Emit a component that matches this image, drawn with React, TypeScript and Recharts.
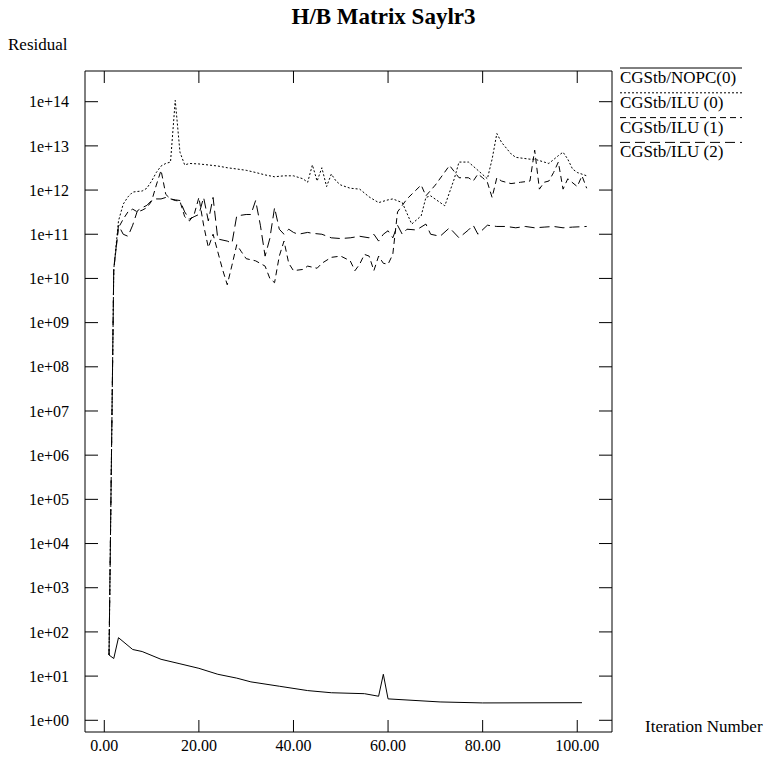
import React from 'react';
import { LineChart, Line, XAxis, YAxis, Legend } from 'recharts';

const FONT = '"Liberation Serif", "DejaVu Serif", serif';

// CGStb without preconditioning
const nopcIter = [1, 2, 3, 6, 8, 12, 16, 20, 24, 28, 31, 37, 43, 48, 55, 58, 59, 60, 71, 80, 101];
const nopcRes = [30, 25, 74, 40, 36, 24, 19, 15, 11, 9, 7.4, 5.9, 4.7, 4.2, 4.0, 3.5, 11, 3.05, 2.6, 2.47, 2.5];

// CGStb with ILU(0)
const ilu0Iter = [
  1, 2, 3, 4, 5, 6, 7, 8, 9, 10, 11, 12, 13, 14, 15, 16, 17, 18, 20, 22, 24, 26, 28, 30, 32, 34, 36, 38, 40, 42,
  43, 44, 45, 46, 47, 48, 49, 50, 52, 54, 56, 58, 60, 61, 63, 65, 67, 68, 69, 72, 74, 75, 77, 79, 81, 82, 83, 84,
  86, 87, 90, 91, 93, 94, 96, 97, 98, 99, 100, 102,
];
const ilu0Res = [
  30, 1.6e10, 2e11, 4.8e11, 7e11, 9e11, 9.3e11, 9.5e11, 1.1e12, 1.6e12, 2.5e12, 3.5e12, 4e12, 4.3e12, 1.07e14,
  7.2e12, 3.7e12, 4e12, 3.9e12, 3.7e12, 3.5e12, 3.2e12, 3e12, 2.8e12, 2.5e12, 2.2e12, 2e12, 2.1e12, 2.1e12,
  1.8e12, 1.5e12, 3.7e12, 1.6e12, 3.2e12, 1.2e12, 2.3e12, 1.6e12, 1.3e12, 1.1e12, 1.05e12, 7e11, 5.2e11, 6e11,
  6.3e11, 5.2e11, 1.7e11, 2.6e11, 6.8e11, 7.4e11, 4.4e11, 1.8e12, 4.3e12, 4.3e12, 2.8e12, 1.8e12, 5e12, 1.9e13,
  1.2e13, 6.6e12, 5.5e12, 5e12, 5e12, 4.3e12, 4e12, 6e12, 7.2e12, 5e12, 3e12, 2.5e12, 2.1e12,
];

// CGStb with ILU(1)
const ilu1Iter = [
  1, 2, 3, 4, 5, 6, 7, 8, 9, 10, 11, 12, 13, 14, 15, 16, 17, 18, 19, 20, 21, 22, 23, 24, 25, 26, 27, 28, 29, 30,
  32, 34, 35, 36, 37, 38, 39, 40, 42, 43, 45, 46, 48, 50, 52, 53, 54, 55, 56, 57, 58, 59, 60, 61, 62, 64, 67, 68,
  70, 73, 75, 77, 78, 79, 80, 81, 82, 83, 84, 86, 88, 90, 91, 92, 93, 94, 95, 96, 97, 98, 100, 101, 102,
];
const ilu1Res = [
  30, 1.6e10, 1.4e11, 2.2e11, 3.2e11, 3.7e11, 3.2e11, 3.5e11, 4e11, 5.6e11, 1.3e12, 2.8e12, 8e11, 6.3e11, 5.8e11,
  5.6e11, 2.5e11, 2e11, 2.8e11, 6.8e11, 1.6e11, 5e10, 1e11, 4e10, 1.6e10, 7.2e9, 2e10, 5.8e10, 4e10, 2.8e10,
  2.5e10, 1.9e10, 1e10, 8e9, 3.2e10, 7e10, 2.2e10, 1.5e10, 1.6e10, 1.9e10, 1.7e10, 2.2e10, 3e10, 3.2e10, 2.5e10,
  1.5e10, 2.1e10, 3.5e10, 3.2e10, 1.5e10, 3.2e10, 2.2e10, 2.1e10, 3.5e10, 3.2e11, 6.3e11, 1.3e12, 7.4e11, 1.3e12,
  3.6e12, 1.9e12, 1.9e12, 1.6e12, 2.3e12, 1.9e12, 1.5e12, 6.8e11, 1.9e12, 1.6e12, 1.4e12, 1.5e12, 1.6e12, 8e12,
  1.05e12, 1.5e12, 1.6e12, 2.5e12, 4.3e12, 1.05e12, 1.8e12, 1.2e12, 2.1e12, 1.1e12,
];

// CGStb with ILU(2)
const ilu2Iter = [
  1, 2, 3, 4, 5, 6, 7, 8, 9, 10, 11, 12, 13, 14, 15, 16, 17, 18, 19, 20, 21, 22, 23, 24, 26, 27, 28, 30, 31, 32,
  33, 34, 35, 36, 37, 38, 39, 40, 41, 43, 44, 46, 48, 50, 52, 54, 56, 57, 58, 59, 60, 61, 62, 63, 64, 66, 68, 69,
  71, 73, 75, 77, 78, 79, 81, 83, 85, 87, 89, 91, 93, 95, 97, 99, 102,
];
const ilu2Res = [
  30, 1.6e10, 1.6e11, 1e11, 9e10, 1.6e11, 3.4e11, 4e11, 4.5e11, 5.8e11, 6.3e11, 6.3e11, 6.8e11, 6.3e11, 6e11,
  5.8e11, 3.2e11, 2.2e11, 2.5e11, 2.8e11, 6.8e11, 2e11, 6.8e11, 7.8e10, 7e10, 6.3e10, 2.6e11, 2.8e11, 2.8e11,
  5.8e11, 1.6e11, 3.2e10, 8e10, 4e11, 1.3e11, 1e11, 1.3e11, 1.1e11, 1e11, 1.1e11, 1.05e11, 1e11, 8.3e10, 8e10,
  8.3e10, 9e10, 8.3e10, 1e11, 7e10, 1e11, 1.2e11, 8.3e10, 1.6e11, 1e11, 1.3e11, 1.25e11, 1.7e11, 1e11, 9e10,
  1.4e11, 8.3e10, 1.25e11, 1.6e11, 1e11, 1.6e11, 1.5e11, 1.5e11, 1.4e11, 1.5e11, 1.4e11, 1.45e11, 1.5e11, 1.4e11,
  1.45e11, 1.5e11,
];

const xTicks = [0, 20, 40, 60, 80, 100];
const yTicks = [1e0, 1e1, 1e2, 1e3, 1e4, 1e5, 1e6, 1e7, 1e8, 1e9, 1e10, 1e11, 1e12, 1e13, 1e14];

const toRows = (iters: number[], res: number[]) => iters.map((it, i) => ({ iter: it, res: res[i] }));

const series = [
  { name: 'CGStb/NOPC(0)', data: toRows(nopcIter, nopcRes), dash: undefined as string | undefined },
  { name: 'CGStb/ILU (0)', data: toRows(ilu0Iter, ilu0Res), dash: '2 2' },
  { name: 'CGStb/ILU (1)', data: toRows(ilu1Iter, ilu1Res), dash: '6 4' },
  { name: 'CGStb/ILU (2)', data: toRows(ilu2Iter, ilu2Res), dash: '10 5' },
];

const X_DOMAIN: [number, number] = [-4.08, 107.35];
const Y_DOMAIN: [number, number] = [0.543, 4.95e14];

const X_TICK_LEN = 12;
const Y_TICK_LEN = 13;

function fmtExp(v: number) {
  const e = Math.round(Math.log10(v));
  return `1e${e < 0 ? '-' : '+'}${String(Math.abs(e)).padStart(2, '0')}`;
}

type TickProps = { x?: number; y?: number; payload?: { value: number } };

// tick marks all point into the plot box (axis tickSize/tickMargin are 0, so x/y is on the axis line)
function BottomTick({ x = 0, y = 0, payload }: TickProps) {
  return (
    <g>
      <line x1={x} x2={x} y1={y} y2={y - X_TICK_LEN} stroke="#000" />
      <text x={x} y={y + 8} dy="0.71em" textAnchor="middle" fontSize={16} fontFamily={FONT} fill="#000">
        {payload ? payload.value.toFixed(2) : ''}
      </text>
    </g>
  );
}

function TopTick({ x = 0, y = 0 }: TickProps) {
  return <line x1={x} x2={x} y1={y} y2={y + X_TICK_LEN} stroke="#000" />;
}

function LeftTick({ x = 0, y = 0, payload }: TickProps) {
  return (
    <g>
      <line x1={x} x2={x + Y_TICK_LEN} y1={y} y2={y} stroke="#000" />
      <text x={x - 16} y={y} dy="0.355em" textAnchor="end" fontSize={16} fontFamily={FONT} fill="#000">
        {payload ? fmtExp(payload.value) : ''}
      </text>
    </g>
  );
}

function RightTick({ x = 0, y = 0 }: TickProps) {
  return <line x1={x} x2={x - Y_TICK_LEN} y1={y} y2={y} stroke="#000" />;
}

function LegendBox() {
  return (
    <svg width={147} height={100} style={{ display: 'block' }}>
      {series.map((s, i) => (
        <g key={s.name}>
          <line x1={2} x2={124} y1={6 + i * 24.8} y2={6 + i * 24.8} stroke="#000" strokeDasharray={s.dash} />
          <text x={2} y={21 + i * 24.8} fontSize={17} fontFamily={FONT} fill="#000">
            {s.name}
          </text>
        </g>
      ))}
    </svg>
  );
}

export default function App() {
  return (
    <div style={{ position: 'absolute', left: 0, top: 0, width: 767, height: 766, background: '#fff', fontFamily: FONT }}>
      <div style={{ position: 'absolute', top: 4, left: 0, width: 767, textAlign: 'center', fontSize: 23, fontWeight: 'bold' }}>
        H/B Matrix Saylr3
      </div>
      <div style={{ position: 'absolute', top: 35, left: 8, fontSize: 17 }}>Residual</div>
      <div style={{ position: 'absolute', top: 717, left: 645, fontSize: 17 }}>Iteration Number</div>

      <LineChart width={767} height={766} margin={{ top: 70, right: 154, left: 0, bottom: 0 }}>
        <XAxis
          type="number"
          dataKey="iter"
          domain={X_DOMAIN}
          allowDataOverflow
          ticks={xTicks}
          interval={0}
          height={34}
          tickLine={false}
          tickSize={0}
          tickMargin={0}
          tick={<BottomTick />}
          stroke="#000"
        />
        <XAxis
          xAxisId="top"
          orientation="top"
          type="number"
          dataKey="iter"
          domain={X_DOMAIN}
          allowDataOverflow
          ticks={xTicks}
          interval={0}
          height={1}
          tickLine={false}
          tickSize={0}
          tickMargin={0}
          tick={<TopTick />}
          stroke="#000"
        />
        <YAxis
          type="number"
          scale="log"
          domain={Y_DOMAIN}
          allowDataOverflow
          ticks={yTicks}
          interval={0}
          width={85}
          tickLine={false}
          tickSize={0}
          tickMargin={0}
          tick={<LeftTick />}
          stroke="#000"
        />
        <YAxis
          yAxisId="right"
          orientation="right"
          type="number"
          scale="log"
          domain={Y_DOMAIN}
          allowDataOverflow
          ticks={yTicks}
          interval={0}
          width={1}
          tickLine={false}
          tickSize={0}
          tickMargin={0}
          tick={<RightTick />}
          stroke="#000"
        />
        <Legend
          layout="vertical"
          align="center"
          verticalAlign="middle"
          wrapperStyle={{ top: 62, left: 618, width: 147 }}
          content={() => <LegendBox />}
        />
        {series.map((s) => (
          <Line
            key={s.name}
            data={s.data}
            dataKey="res"
            name={s.name}
            stroke="#000"
            strokeWidth={1}
            strokeDasharray={s.dash}
            dot={false}
            activeDot={false}
            type="linear"
            isAnimationActive={false}
          />
        ))}
      </LineChart>
    </div>
  );
}
